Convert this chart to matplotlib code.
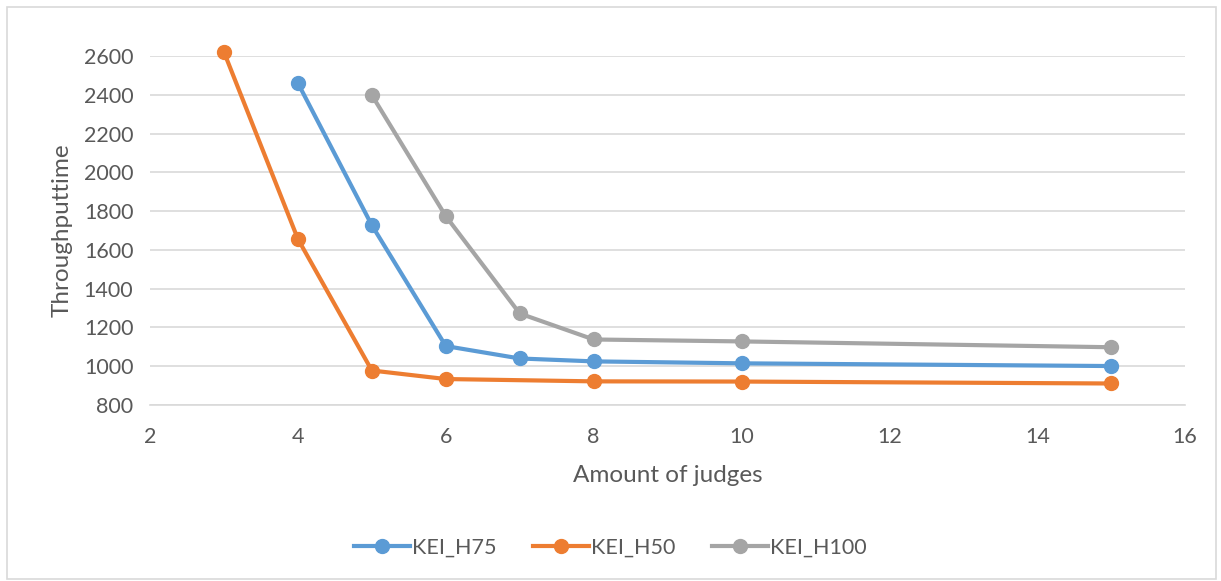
import matplotlib.pyplot as plt
from matplotlib.patches import Rectangle

# throughput time per number of judges, three settings
judges_h75 = [4, 5, 6, 7, 8, 10, 15]
time_h75 = [2460, 1727, 1104, 1040, 1025, 1015, 1001]

judges_h50 = [3, 4, 5, 6, 8, 10, 15]
time_h50 = [2620, 1656, 978, 934, 922, 921, 911]

judges_h100 = [5, 6, 7, 8, 10, 15]
time_h100 = [2398, 1774, 1272, 1138, 1128, 1098]

plt.rcParams['font.family'] = ['Lato', 'DejaVu Sans']
txt = '#595959'

fig = plt.figure(figsize=(12.21, 5.81), dpi=100)
fig.patches.append(Rectangle((0.006, 0.004), 0.99, 0.984, transform=fig.transFigure,
                             fill=False, edgecolor='#d9d9d9', lw=1.2))
ax = fig.add_axes([0.1229, 0.3029, 0.8477, 0.6007])

ax.plot(judges_h75, time_h75, '-o', color='#5B9BD5', lw=3, ms=10, label='KEI_H75', clip_on=False, zorder=3)
ax.plot(judges_h50, time_h50, '-o', color='#ED7D31', lw=3, ms=10, label='KEI_H50', clip_on=False, zorder=3)
ax.plot(judges_h100, time_h100, '-o', color='#A5A5A5', lw=3, ms=10, label='KEI_H100', clip_on=False, zorder=3)

ax.set_xlim(2, 16)
ax.set_ylim(800, 2600)
ax.set_xticks(range(2, 17, 2))
ax.set_yticks(range(800, 2601, 200))
ax.grid(axis='y', color='#d9d9d9', lw=1.2)
ax.set_axisbelow(True)
for s in ['top', 'right', 'left']:
    ax.spines[s].set_visible(False)
ax.spines['bottom'].set_color('#d9d9d9')
ax.spines['bottom'].set_linewidth(1.2)
ax.tick_params(length=0, labelsize=15.5, labelcolor=txt)
ax.tick_params(axis='x', pad=16)
ax.tick_params(axis='y', pad=12)

ax.set_xlabel('Amount of judges', fontsize=17.5, color=txt, labelpad=13)
ax.set_ylabel('Throughputtime', fontsize=17.5, color=txt, labelpad=8)

fig.legend(loc='center', bbox_to_anchor=(0.5, 0.057), ncol=3, frameon=False,
           fontsize=15.5, labelcolor=txt, handlelength=2.6, columnspacing=1.7, handletextpad=0.1)

plt.savefig('out.png')
